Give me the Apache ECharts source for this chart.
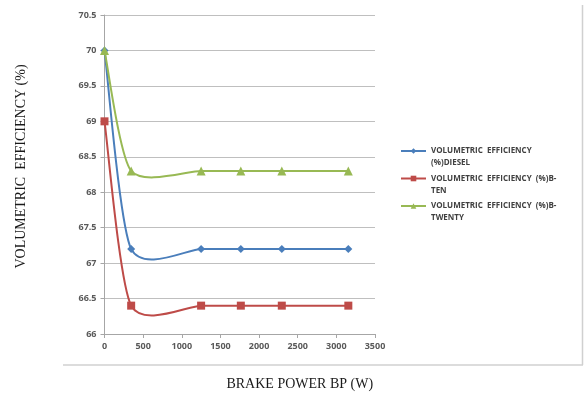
<!DOCTYPE html>
<html>
<head>
<meta charset="utf-8">
<script src="https://cdn.jsdelivr.net/npm/echarts@6/dist/echarts.min.js"></script>
<style>
  html, body { margin: 0; padding: 0; background: #fff; }
  #chart { width: 584px; height: 401px; }
</style>
</head>
<body>
<div id="chart"></div>
<script>
// Brake power (W) at each load step
const brakePower = [0, 345, 1250, 1764, 2294, 3155];

// Volumetric efficiency (%) per fuel
const effDiesel = [70, 67.2, 67.2, 67.2, 67.2, 67.2];
const effBTen = [69, 66.4, 66.4, 66.4, 66.4, 66.4];
const effBTwenty = [70, 68.3, 68.3, 68.3, 68.3, 68.3];

const seriesNames = [
  'VOLUMETRIC EFFICIENCY (%)DIESEL',
  'VOLUMETRIC EFFICIENCY (%)B-TEN',
  'VOLUMETRIC EFFICIENCY (%)B-TWENTY'
];
// Legend text wrapped onto two lines; the leading blank line keeps the
// swatch level with the first line of text.
const legendLines = {
  [seriesNames[0]]: '\nVOLUMETRIC  EFFICIENCY\n(%)DIESEL',
  [seriesNames[1]]: '\nVOLUMETRIC  EFFICIENCY  (%)B-\nTEN',
  [seriesNames[2]]: '\nVOLUMETRIC  EFFICIENCY  (%)B-\nTWENTY'
};
const colors = ['#4a7ebb', '#be4b48', '#98b954'];

const pairs = (xs, ys) => xs.map((x, i) => [x, ys[i]]);

// Cardinal-spline smoothing: each segment i -> i+1 is a cubic Bezier whose
// control legs follow the direction of the neighbouring points.
const TENSION = 0.12;
function smoothSegment(values) {
  return function (params, api) {
    const i = params.dataIndex;
    const n = brakePower.length;
    if (i >= n - 1) return null;
    const pt = k => {
      const j = Math.max(0, Math.min(n - 1, k));
      return api.coord([brakePower[j], values[j]]);
    };
    const p0 = pt(i - 1), p1 = pt(i), p2 = pt(i + 1), p3 = pt(i + 2);
    const c1 = [p1[0] + (p2[0] - p0[0]) * TENSION, p1[1] + (p2[1] - p0[1]) * TENSION];
    const c2 = [p2[0] - (p3[0] - p1[0]) * TENSION, p2[1] - (p3[1] - p1[1]) * TENSION];
    return {
      type: 'bezierCurve',
      shape: { x1: p1[0], y1: p1[1], cpx1: c1[0], cpy1: c1[1], cpx2: c2[0], cpy2: c2[1], x2: p2[0], y2: p2[1] },
      style: { fill: null, stroke: api.visual('color'), lineWidth: 2 },
      silent: true
    };
  };
}

const chart = echarts.init(document.getElementById('chart'), null, { renderer: 'canvas' });

const tickFont = { fontFamily: 'Open Sans', fontSize: 9, fontWeight: 'bold', color: '#595959' };

const fuelValues = [effDiesel, effBTen, effBTwenty];
const symbols = ['diamond', 'rect', 'triangle'];
const symbolSizes = [8, 8, 9];

const curveSeries = fuelValues.map((vals, k) => ({
  type: 'custom',
  data: pairs(brakePower, vals),
  encode: { x: 0, y: 1 },
  itemStyle: { color: colors[k] },
  renderItem: smoothSegment(vals),
  z: 1
}));

const markerSeries = fuelValues.map((vals, k) => ({
  name: seriesNames[k],
  type: 'line',
  data: pairs(brakePower, vals),
  symbol: symbols[k],
  symbolSize: symbolSizes[k],
  showAllSymbol: true,
  lineStyle: { color: colors[k], width: 2, opacity: 0 },
  itemStyle: { color: colors[k] },
  z: 3
}));

chart.setOption({
  animation: false,
  backgroundColor: '#fff',
  grid: { left: 104.5, right: 209, top: 15, bottom: 67 },
  xAxis: {
    type: 'value',
    min: 0, max: 3500, interval: 500,
    name: 'BRAKE POWER BP (W)',
    nameLocation: 'middle',
    nameGap: 43,
    nameTextStyle: { fontFamily: 'Liberation Serif', fontSize: 14, color: '#1a1a1a', padding: [0, 0, 0, 120] },
    axisLine: { show: true, lineStyle: { color: '#a6a6a6', width: 1 } },
    axisTick: { show: true, length: 4, lineStyle: { color: '#a6a6a6' } },
    axisLabel: Object.assign({ margin: 8, formatter: v => String(v) }, tickFont),
    splitLine: { show: false }
  },
  yAxis: {
    type: 'value',
    min: 66, max: 70.5, interval: 0.5,
    name: 'VOLUMETRIC  EFFICIENCY (%)',
    nameLocation: 'middle',
    nameGap: 76,
    nameRotate: 90,
    nameTextStyle: { fontFamily: 'Liberation Serif', fontSize: 14, color: '#1a1a1a', padding: [0, 0, 0, 16] },
    axisLine: { show: true, lineStyle: { color: '#a6a6a6', width: 1 } },
    axisTick: { show: true, length: 4, lineStyle: { color: '#a6a6a6' } },
    axisLabel: Object.assign({ margin: 8, formatter: v => String(v) }, tickFont),
    splitLine: { show: true, lineStyle: { color: '#bfbfbf', width: 1 } }
  },
  legend: {
    orient: 'vertical',
    left: 395,
    top: 128,
    itemWidth: 25,
    itemHeight: 7,
    itemGap: -8.5,
    formatter: name => legendLines[name],
    textStyle: { fontFamily: 'Open Sans', fontSize: 8, fontWeight: 'bold', color: '#404040', lineHeight: 12 },
    data: seriesNames.map((name, k) => ({ name, lineStyle: { color: colors[k], width: 2, opacity: 1 } }))
  },
  series: curveSeries.concat(markerSeries),
  graphic: [
    // chart frame edges
    { type: 'line', shape: { x1: 63, y1: 365, x2: 583, y2: 365 }, style: { stroke: '#d0d0d0', lineWidth: 1.5 }, silent: true },
    { type: 'line', shape: { x1: 582.5, y1: 5, x2: 582.5, y2: 365 }, style: { stroke: '#d0d0d0', lineWidth: 1.5 }, silent: true }
  ]
});
</script>
</body>
</html>
